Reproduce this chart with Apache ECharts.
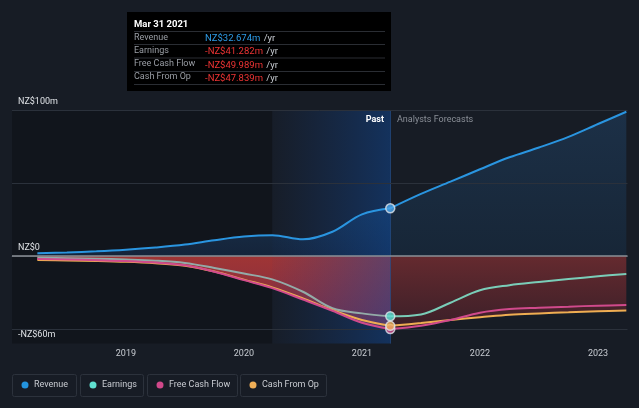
<!DOCTYPE html>
<html>
<head>
<meta charset="utf-8">
<script src="https://cdn.jsdelivr.net/npm/echarts@6/dist/echarts.min.js"></script>
<style>
html,body{margin:0;padding:0;background:#171c25;}
#chart{width:639px;height:408px;}
</style>
</head>
<body>
<div id="chart"></div>
<script>
// ---- data (NZ$ millions) ----
const pastYears = [2018.25, 2018.5, 2018.75, 2019.0, 2019.25, 2019.5, 2019.75, 2020.0, 2020.24, 2020.5, 2020.75, 2021.0, 2021.24];
const revenuePast  = [1.8, 2.4, 3.2, 4.3, 5.8, 7.8, 10.8, 13.3, 14.2, 11.4, 16.6, 28.5, 32.674];
const earningsPast = [-1.2, -1.5, -1.9, -2.4, -3.2, -4.8, -8.2, -12.0, -16.0, -24.5, -35.8, -39.3, -41.282];
const fcfPast      = [-2.0, -2.4, -2.9, -3.5, -4.5, -6.4, -10.8, -16.5, -22.0, -29.8, -37.5, -45.7, -49.989];
const cfoPast      = [-2.7, -3.0, -3.4, -4.0, -5.0, -6.6, -10.6, -16.2, -21.5, -29.0, -37.0, -43.8, -47.839];

const forecastYears = [2021.24, 2021.5, 2021.75, 2022.0, 2022.25, 2022.5, 2022.75, 2023.0, 2023.24];
const revenueForecast  = [32.674, 42.5, 50.9, 59.4, 67.6, 74.3, 81.6, 90.4, 98.8];
const earningsForecast = [-41.282, -40.0, -32.0, -23.5, -20.0, -17.8, -15.8, -13.9, -12.3];
const fcfForecast      = [-49.989, -47.7, -43.8, -38.8, -36.3, -35.4, -34.7, -34.0, -33.6];
const cfoForecast      = [-47.839, -45.9, -43.8, -42.0, -40.2, -39.3, -38.6, -37.9, -37.4];

const xTicks = [2019, 2020, 2021, 2022, 2023];
const yTickValues = [100, 0, -60];
const yTickLabels = ['NZ$100m', 'NZ$0', '-NZ$60m'];
const gridValues = [100, 50, -50];

const xMin = 2018.035, xMax = 2023.25;
const bandStart = 2020.24, pastEnd = 2021.24;

const tooltipDate = 'Mar 31 2021';
const tooltipNames = ['Revenue', 'Earnings', 'Free Cash Flow', 'Cash From Op'];
const tooltipValues = ['NZ$32.674m', '-NZ$41.282m', '-NZ$49.989m', '-NZ$47.839m'];

const legendNames = ['Revenue', 'Earnings', 'Free Cash Flow', 'Cash From Op'];
const legendColors = ['#2394df', '#5fe0d0', '#d0488a', '#eeae57'];

// ---- helpers ----
const zip = (xs, ys) => xs.map((x, i) => [x, ys[i]]);
const minOf = (a, b) => a.map((v, i) => Math.min(v, b[i]));
const FONT = 'Roboto, "Noto Sans", sans-serif';
const SMOOTH = 0.35;

const C = {
  revenue: '#2a95e0',
  earningsPast: '#93aba8',
  earnings: '#7acdb8',
  fcf: '#d04a8c',
  cfo: '#efad52'
};

function lineSeries(name, data, color) {
  return {
    name, type: 'line', data, z: 4,
    smooth: SMOOTH,
    symbol: 'none',
    lineStyle: { color, width: 2 },
    itemStyle: { color },
    silent: true
  };
}
function fillSeries(data, c0, c1) {
  return {
    type: 'line', data, z: 1,
    smooth: SMOOTH,
    symbol: 'none',
    lineStyle: { width: 0, opacity: 0 },
    areaStyle: {
      opacity: 1,
      color: new echarts.graphic.LinearGradient(0, 0, 0, 1, [
        { offset: 0, color: c0 }, { offset: 1, color: c1 }
      ])
    },
    silent: true
  };
}

const chart = echarts.init(document.getElementById('chart'), null, { renderer: 'canvas' });

const lastIdx = pastYears.length - 1;
const lastP = pastYears[lastIdx];

const series = [
  // dark overlay for earlier past
  {
    type: 'line', data: [[lastP, 0]], z: 0, symbol: 'none',
    lineStyle: { opacity: 0 }, silent: true,
    markArea: {
      silent: true, z: 0,
      itemStyle: { color: 'rgba(0,0,0,0.22)' },
      data: [[{ xAxis: xMin, yAxis: 100 }, { xAxis: bandStart, yAxis: -60 }]]
    }
  },
  // fills
  fillSeries(zip(pastYears, revenuePast), '#18304a', '#15243a'),
  fillSeries(zip(forecastYears, revenueForecast), '#1c3047', '#172637'),
  fillSeries(zip(pastYears, minOf(fcfPast, cfoPast)), '#a03535', '#7a2c44'),
  fillSeries(zip(forecastYears, minOf(fcfForecast, cfoForecast)), '#652a2f', '#3a1f28'),
  // past highlight band
  {
    type: 'line', data: [[lastP, 0]], z: 2, symbol: 'none',
    lineStyle: { opacity: 0 }, silent: true,
    markArea: {
      silent: true, z: 2,
      itemStyle: {
        color: new echarts.graphic.LinearGradient(0, 0, 1, 0, [
          { offset: 0, color: 'rgba(20,70,150,0.03)' },
          { offset: 1, color: 'rgba(15,80,170,0.42)' }
        ])
      },
      data: [[{ xAxis: bandStart, yAxis: 100 }, { xAxis: pastEnd, yAxis: -60 }]]
    },
    markLine: {
      silent: true, symbol: 'none', label: { show: false }, z: 3,
      lineStyle: { color: 'rgba(40,90,160,0.55)', width: 1, type: 'solid' },
      data: [{ xAxis: pastEnd }]
    }
  },
  // gridlines + zero line
  {
    type: 'line', data: [[lastP, 0]], z: 3, symbol: 'none',
    lineStyle: { opacity: 0 }, silent: true,
    markLine: {
      silent: true, symbol: 'none', label: { show: false }, z: 3,
      data: gridValues.map(v => ({ yAxis: v, lineStyle: { color: '#2b313b', width: 1, type: 'solid' } }))
        .concat([{ yAxis: 0, lineStyle: { color: '#8b9097', width: 1.5, type: 'solid' } }])
    }
  },
  // lines
  lineSeries('Revenue', zip(pastYears, revenuePast), C.revenue),
  lineSeries('Revenue', zip(forecastYears, revenueForecast), C.revenue),
  lineSeries('Earnings', zip(pastYears, earningsPast), C.earningsPast),
  lineSeries('Earnings', zip(forecastYears, earningsForecast), C.earnings),
  lineSeries('Cash From Op', zip(pastYears, cfoPast), C.cfo),
  lineSeries('Cash From Op', zip(forecastYears, cfoForecast), C.cfo),
  lineSeries('Free Cash Flow', zip(pastYears, fcfPast), C.fcf),
  lineSeries('Free Cash Flow', zip(forecastYears, fcfForecast), C.fcf),
  // markers at the last reported point
  {
    type: 'scatter', z: 5, symbolSize: 9, silent: true,
    data: [
      { value: [lastP, revenuePast[lastIdx]], itemStyle: { color: '#4ea6ea' } },
      { value: [lastP, earningsPast[lastIdx]], itemStyle: { color: '#5fe0d0' } },
      { value: [lastP, fcfPast[lastIdx]], itemStyle: { color: '#d0488a' } },
      { value: [lastP, cfoPast[lastIdx]], itemStyle: { color: '#eeae57' } }
    ],
    itemStyle: { borderColor: '#dfe3ea', borderWidth: 1.5 }
  }
];

// tooltip-like box (static, drawn as graphic)
const graphics = [];
graphics.push({ type: 'rect', left: 127, top: 12, shape: { width: 264, height: 79 }, style: { fill: '#000000' }, z: 100 });
graphics.push({ type: 'text', left: 134, top: 19.5, style: { text: tooltipDate, fill: '#ffffff', font: 'bold 9.5px ' + FONT }, z: 101 });
const rowY = [37.7, 50.7, 64, 77];
const sepY = [31, 44, 57.5, 71, 84];
sepY.forEach(y => graphics.push({ type: 'rect', left: 134, top: y, shape: { width: 251, height: 1 }, style: { fill: '#2a2d33' }, z: 101 }));
tooltipNames.forEach((n, i) => {
  graphics.push({ type: 'text', left: 134, top: rowY[i] - 4.5, style: { text: n, fill: '#9a9ea5', font: '9px ' + FONT }, z: 101 });
  graphics.push({
    type: 'text', left: 205, top: rowY[i] - 4.8,
    style: {
      text: '{v|' + tooltipValues[i] + '} {u|/yr}',
      rich: {
        v: { fill: i === 0 ? '#2d9be6' : '#ee3434', font: '9.5px ' + FONT },
        u: { fill: '#c8ccd2', font: '9.5px ' + FONT }
      }
    }, z: 101
  });
});
// Past / Analysts Forecasts labels
graphics.push({ type: 'text', right: 639 - 384, top: 115, style: { text: 'Past', fill: '#ffffff', font: 'bold 9px ' + FONT, align: 'right' }, z: 50 });
graphics.push({ type: 'text', left: 397, top: 115, style: { text: 'Analysts Forecasts', fill: '#8a8f97', font: '9px ' + FONT }, z: 50 });
// legend boxes
const boxX = [12, 80, 147, 240];
const boxW = [64, 63, 90, 86];
legendNames.forEach((n, i) => {
  graphics.push({ type: 'rect', left: boxX[i], top: 374, shape: { width: boxW[i], height: 22, r: 2 }, style: { fill: 'rgba(0,0,0,0)', stroke: '#2c323c', lineWidth: 1 }, z: 50 });
  graphics.push({ type: 'circle', shape: { cx: boxX[i] + 13, cy: 385, r: 3.5 }, style: { fill: legendColors[i] }, z: 51 });
  graphics.push({ type: 'text', left: boxX[i] + 22, top: 380, style: { text: n, fill: '#c9ccd2', font: '9px ' + FONT }, z: 51 });
});

chart.setOption({
  backgroundColor: '#171c25',
  animation: false,
  textStyle: { fontFamily: FONT },
  grid: { left: 12, right: 11.5, top: 110, bottom: 64.4, containLabel: false },
  xAxis: {
    type: 'value', min: xMin, max: xMax,
    splitLine: { show: false },
    axisLine: { show: true, lineStyle: { color: '#343a44', width: 1 } },
    axisTick: { show: true, customValues: xTicks, length: 4, lineStyle: { color: '#4a505a' } },
    axisLabel: {
      customValues: xTicks, color: '#c8ccd2', fontSize: 9, margin: 6,
      formatter: v => String(Math.round(v))
    }
  },
  yAxis: {
    type: 'value', min: -60, max: 100,
    splitLine: { show: false },
    axisLine: { show: false },
    axisTick: { show: false },
    axisLabel: {
      customValues: yTickValues, inside: true, margin: 6,
      color: '#dfe2e6', fontSize: 9, verticalAlign: 'bottom', padding: [0, 0, 4, 0],
      formatter: v => yTickLabels[yTickValues.indexOf(Math.round(v))] || ''
    }
  },
  series,
  graphic: graphics
});
</script>
</body>
</html>
